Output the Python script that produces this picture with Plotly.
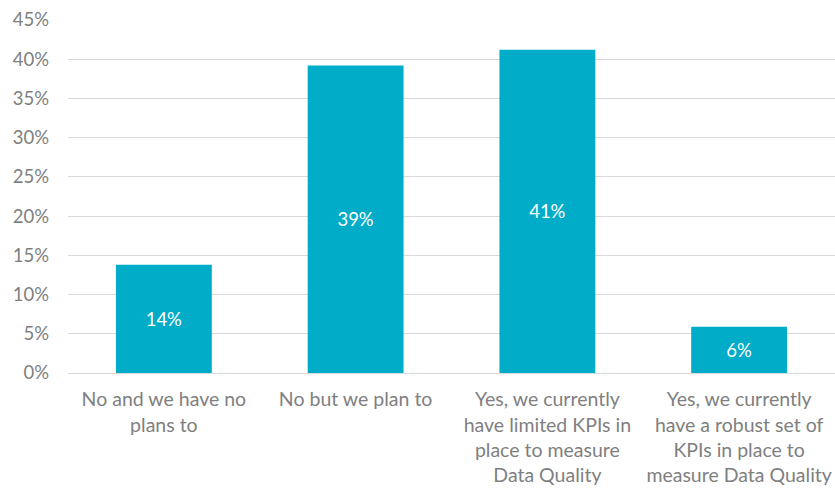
import plotly.graph_objects as go

# Survey responses: do you have KPIs to measure Data Quality?
categories = [
    "No and we have no<br>plans to",
    "No but we plan to",
    "Yes, we currently<br>have limited KPIs in<br>place to measure<br>Data Quality",
    "Yes, we currently<br>have a robust set of<br>KPIs in place to<br>measure Data Quality",
]
shares = [0.138, 0.392, 0.412, 0.059]
tick_values = [0, 0.05, 0.10, 0.15, 0.20, 0.25, 0.30, 0.35, 0.40, 0.45]
tick_labels = ["0%", "5%", "10%", "15%", "20%", "25%", "30%", "35%", "40%", "45%"]

BAR_COLOR = "#00acc8"
GRID_COLOR = "#d9d9d9"
TEXT_GREY = "#7f7f7f"
FONT = "Lato, 'Open Sans', sans-serif"

fig = go.Figure(
    go.Bar(
        x=categories,
        y=shares,
        marker=dict(color=BAR_COLOR, line=dict(width=0)),
        text=[f"{v:.0%}" for v in shares],
        textposition="inside",
        insidetextanchor="middle",
        textangle=0,
        textfont=dict(color="white", size=18.5, family=FONT),
        hoverinfo="skip",
    )
)

fig.update_layout(
    width=835,
    height=489,
    margin=dict(l=68, r=0, t=20, b=116),
    paper_bgcolor="white",
    plot_bgcolor="white",
    bargap=0.5,
    showlegend=False,
    font=dict(family=FONT, color=TEXT_GREY, size=18),
)

fig.update_xaxes(
    showgrid=False,
    showline=True,
    linecolor=GRID_COLOR,
    linewidth=1,
    ticks="",
    tickfont=dict(size=19.5, color=TEXT_GREY, family=FONT),
    ticklabelstandoff=9,
)

fig.update_yaxes(
    range=[0, 0.45],
    tickvals=tick_values,
    ticktext=tick_labels,
    showgrid=True,
    gridcolor=GRID_COLOR,
    gridwidth=1,
    zeroline=False,
    showline=False,
    ticks="",
    tickfont=dict(size=18.5, color=TEXT_GREY, family=FONT),
    ticklabelstandoff=18,
)

fig.write_html("out.html")
